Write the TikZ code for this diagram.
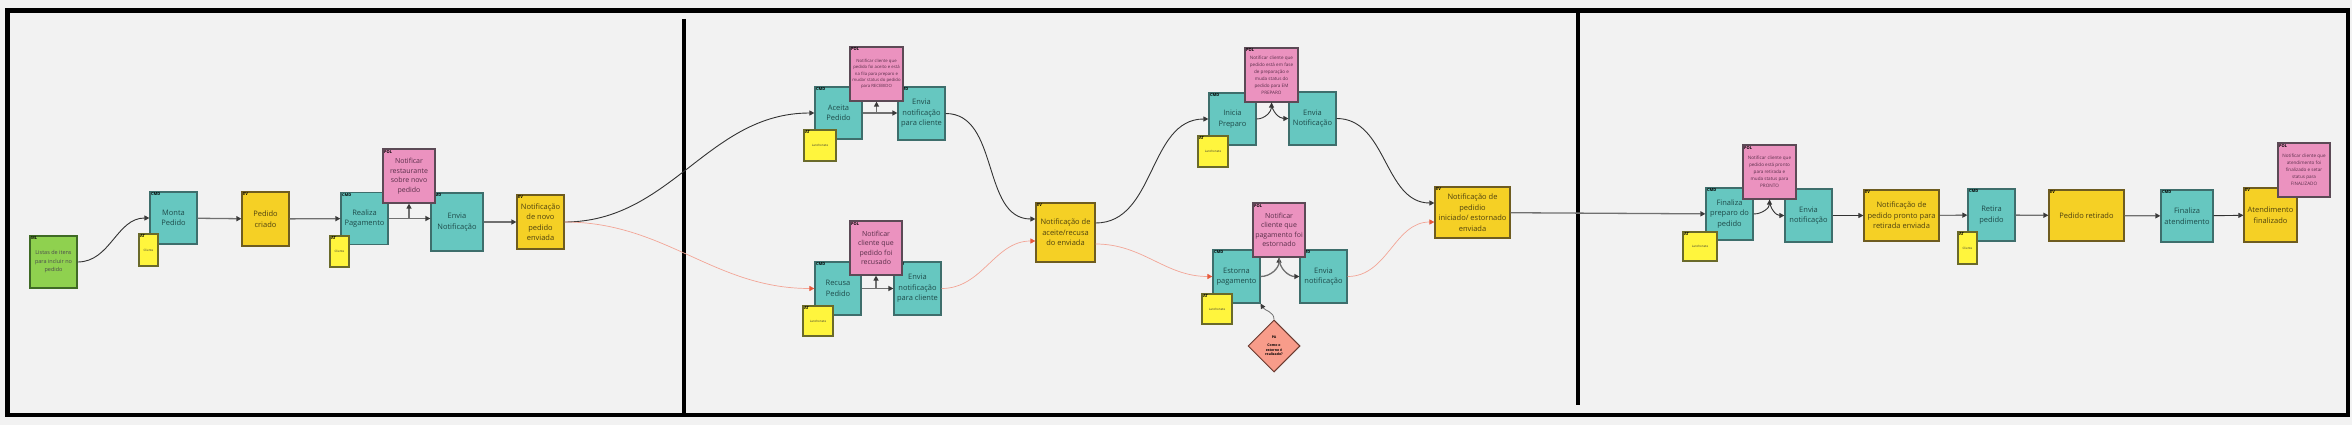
\documentclass[tikz,border=0pt]{standalone}
\usepackage{fontspec}
\setmainfont{Open Sans}
\usetikzlibrary{arrows.meta,shapes.geometric}
\definecolor{bgcolor}{HTML}{F2F2F2}
\definecolor{cmdfill}{HTML}{66C7C0}
\definecolor{cmdline}{HTML}{3E6E6C}
\definecolor{cmdtext}{HTML}{1E4B4A}
\definecolor{evfill}{HTML}{F5D025}
\definecolor{evline}{HTML}{6E5C20}
\definecolor{evtext}{HTML}{4F420F}
\definecolor{polfill}{HTML}{EB92BF}
\definecolor{polline}{HTML}{5C4A56}
\definecolor{poltext}{HTML}{5A2F4A}
\definecolor{atfill}{HTML}{FFF53D}
\definecolor{atline}{HTML}{6A6A2A}
\definecolor{mlfill}{HTML}{8FD14F}
\definecolor{mlline}{HTML}{3F6A25}
\definecolor{pafill}{HTML}{F89C8A}
\definecolor{paline}{HTML}{6A3A30}
\definecolor{flowgray}{HTML}{707070}
\definecolor{tipgray}{HTML}{3A3A3A}
\definecolor{flowred}{HTML}{F2A596}
\definecolor{tipred}{HTML}{E85A3C}
\tikzset{
    card/.style = {
        draw, line width=1.2pt, align=center, inner sep=1pt,
        minimum width=47pt, minimum height=52pt,
        font=\fontsize{7.5}{10.5}\selectfont,
        },
    tag/.style = {
        anchor=north west, inner sep=1.5pt, text=black,
        font=\fontsize{4}{4}\selectfont\bfseries,
        },
    cmd card/.style = {
        card, fill=cmdfill, draw=cmdline, text=cmdtext,
        label={[tag]north west:CMD},
        },
    ev card/.style = {
        card, fill=evfill, draw=evline, text=evtext,
        label={[tag]north west:EV},
        },
    pol card/.style = {
        card, fill=polfill, draw=polline, text=poltext,
        minimum width=52pt, minimum height=54pt,
        font=\fontsize{7}{9.5}\selectfont,
        label={[tag]north west:POL},
        },
    pol tiny/.style = {
        font=\fontsize{4.3}{6.3}\selectfont,
        },
    at note/.style = {
        card, fill=atfill, draw=atline, text=black!80,
        minimum width=30pt, minimum height=30pt,
        font=\fontsize{3}{3}\selectfont,
        label={[tag]north west:AT},
        },
    ml card/.style = {
        card, fill=mlfill, draw=mlline, text=black!70,
        font=\fontsize{5.5}{8.5}\selectfont,
        label={[tag]north west:ML},
        },
    pa card/.style = {
        diamond, draw=paline, fill=pafill, line width=1pt, align=center,
        minimum width=52pt, minimum height=52pt, inner sep=0pt,
        font=\fontsize{3.5}{4.5}\selectfont\bfseries,
        },
    frame/.style = {
        line width=4.5pt, line join=miter,
        },
    flow/.style = {
        draw=flowgray, line width=1.3pt,
        -{Triangle[length=5pt,width=5pt,color=tipgray]},
        },
    flow black/.style = {
        draw=black!80, line width=0.9pt,
        -{Triangle[length=5pt,width=5pt,color=tipgray]},
        },
    flow red/.style = {
        draw=flowred, line width=0.7pt,
        -{Triangle[length=5pt,width=5pt,color=tipred]},
        },
}
\begin{document}
\begin{tikzpicture}[x=1pt, y=-1pt]
    \useasboundingbox (0,0) rectangle (2352,425);
    \fill[bgcolor] (0,0) rectangle (2352,425);
    \draw[frame] (7.5,10.5) rectangle (2348,415);
    \draw[frame] (684,19) -- (684,415);
    \draw[frame] (1578,10.5) -- (1578,405);

    \node[ml card] (itens) at (53.5,262) {Listas de itens\\para incluir no\\pedido};
    \node[cmd card] (monta) at (173.5,218) {Monta\\Pedido};
    \node[ev card, minimum height=54pt] (criado) at (265.5,219) {Pedido\\criado};
    \node[cmd card] (realiza) at (364.5,218.5) {Realiza\\Pagamento};
    \node[cmd card, minimum width=52pt, minimum height=58pt] (enviaRest) at (457,222) {Envia\\Notificação};
    \node[ev card, minimum height=54pt] (novoEnviado) at (540.5,222) {Notificação\\de novo\\pedido\\enviada};
    \node[pol card] (polRest) at (409,176) {Notificar\\restaurante\\sobre novo\\pedido};
    \node[at note, minimum width=19pt, minimum height=32pt] (atMonta) at (148.5,250) {Cliente};
    \node[at note, minimum width=19pt, minimum height=31pt] (atPaga) at (339.5,251.5) {Cliente};

    \node[cmd card] (aceita) at (838.5,113) {Aceita\\Pedido};
    \node[cmd card, minimum height=53pt] (enviaAceite) at (921.5,113.5) {Envia\\notificação\\para cliente};
    \node[pol card, pol tiny, minimum width=53pt] (polAceite) at (876.5,74) {Notificar cliente que\\pedido foi aceito e está\\na fila para preparo e\\mudar status do pedido\\para RECEBIDO};
    \node[at note, minimum width=32pt, minimum height=31pt] (atAceita) at (820,145.5) {Lanchonete};
    \node[cmd card, minimum width=46pt, minimum height=53pt] (recusa) at (838,288.5) {Recusa\\Pedido};
    \node[cmd card, minimum height=53pt] (enviaRecusa) at (917.5,288.5) {Envia\\notificação\\para cliente};
    \node[pol card] (polRecusa) at (876,248) {Notificar\\cliente que\\pedido foi\\recusado};
    \node[at note] (atRecusa) at (818,321) {Lanchonete};
    \node[ev card, minimum width=59pt, minimum height=59pt] (respostaEnviada) at (1065.5,232.5) {Notificação de\\aceite/recusa\\do enviada};

    \node[cmd card] (inicia) at (1232.5,119) {Inicia\\Preparo};
    \node[cmd card, minimum height=53pt] (enviaPreparo) at (1312.5,118.5) {Envia\\Notificação};
    \node[pol card, pol tiny, minimum width=53pt, font=\fontsize{4.6}{7}\selectfont] (polPreparo) at (1271.5,75) {Notificar cliente que\\pedido está em fase\\de preparação e\\muda status do\\pedido para EM\\PREPARO};
    \node[at note, minimum height=31pt] (atInicia) at (1213,151.5) {Lanchonete};
    \node[cmd card, minimum height=53pt] (estorna) at (1236.5,276.5) {Estorna\\pagamento};
    \node[cmd card, minimum height=53pt] (enviaEstorno) at (1323.5,276.5) {Envia\\notificação};
    \node[pol card] (polEstorno) at (1279,230) {Notificar\\cliente que\\pagamento foi\\estornado};
    \node[at note] (atEstorna) at (1217,309) {Lanchonete};
    \node[pa card] (comoEstorno) at (1274,346) {PA\\[4pt]Como o\\estorno é\\realizado?};
    \node[ev card, minimum width=75pt, minimum height=51pt] (preparoEnviado) at (1472.5,212.5) {Notificação de\\pedidio\\iniciado/ estornado\\enviada};

    \node[cmd card] (finaliza) at (1729.5,214) {Finaliza\\preparo do\\pedido};
    \node[cmd card, minimum height=53pt] (enviaPronto) at (1808.5,215.5) {Envia\\notificação};
    \node[pol card, pol tiny, minimum width=53pt, font=\fontsize{4.6}{7}\selectfont] (polPronto) at (1769.5,172) {Notificar cliente que\\pedido está pronto\\para retirada e\\muda status para\\PRONTO};
    \node[at note, minimum width=34pt, minimum height=29pt] (atFinaliza) at (1700,246.5) {Lanchonete};
    \node[ev card, minimum width=75pt, minimum height=51pt] (prontoEnviado) at (1901.5,215.5) {Notificação de\\pedido pronto para\\retirada enviada};
    \node[cmd card] (retira) at (1991.5,215) {Retira\\pedido};
    \node[at note, minimum width=19pt, minimum height=32pt] (atRetira) at (1967.5,248) {Cliente};
    \node[ev card, minimum width=75pt, minimum height=51pt] (retirado) at (2086.5,215.5) {Pedido retirado};
    \node[cmd card, minimum width=52pt] (finalizaAtend) at (2187,216) {Finaliza\\atendimento};
    \node[ev card, minimum width=53pt, minimum height=54pt] (atendFinalizado) at (2270.5,215) {Atendimento\\finalizado};
    \node[pol card, pol tiny, font=\fontsize{4.6}{7}\selectfont] (polFinal) at (2304,170) {Notificar cliente que\\atendimento foi\\finalizado e setar\\status para\\FINALIZADO};

    \draw[flow black] (itens.east) to[out=0, in=180] (monta.west);
    \draw[flow] (monta) -- (criado);
    \draw[flow] (criado) -- (realiza);
    \draw[flow] (realiza.east) -- (realiza.east -| enviaRest.west);
    \draw[flow] (realiza.east -| polRest.south) -- (polRest.south);
    \draw[flow] (enviaRest) -- (novoEnviado);
    \draw[flow black] (novoEnviado.east) to[out=0, in=180] (aceita.west);
    \draw[flow red] (novoEnviado.east) to[out=0, in=180] (recusa.west);

    \draw[flow] (aceita.east) -- (aceita.east -| enviaAceite.west);
    \draw[flow] (aceita.east -| polAceite.south) -- (polAceite.south);
    \draw[flow] (recusa.east) -- (recusa.east -| enviaRecusa.west);
    \draw[flow] (recusa.east -| polRecusa.south) -- (polRecusa.south);
    \draw[flow black] (enviaAceite.east) to[out=0, in=180] ([yshift=13.5pt]respostaEnviada.west);
    \draw[flow red] (enviaRecusa.east) to[out=0, in=180] ([yshift=-8.5pt]respostaEnviada.west);
    \draw[flow black] ([yshift=9.5pt]respostaEnviada.east) to[out=0, in=180] (inicia.west);
    \draw[flow red] ([yshift=-11.5pt]respostaEnviada.east) to[out=0, in=180] (estorna.west);

    \draw[flow black] (inicia.east) to[out=0, in=-90] (polPreparo.south);
    \draw[flow black] (polPreparo.south) to[out=-90, in=180] (enviaPreparo.west);
    \draw[flow] (estorna.east) to[out=0, in=-90] (polEstorno.south);
    \draw[flow] (polEstorno.south) to[out=-90, in=180] (enviaEstorno.west);
    \draw[flow, line width=0.8pt] (comoEstorno.north) to[out=90, in=-60] (estorna.south east);
    \draw[flow black] (enviaPreparo.east) to[out=0, in=180] ([yshift=9.5pt]preparoEnviado.west);
    \draw[flow red] (enviaEstorno.east) to[out=0, in=180] ([yshift=-9.5pt]preparoEnviado.west);

    \draw[flow] (preparoEnviado) -- (finaliza);
    \draw[flow black] (finaliza.east) to[out=0, in=-90] (polPronto.south);
    \draw[flow black] (polPronto.south) to[out=-90, in=180] (enviaPronto.west);
    \draw[flow black] (enviaPronto) -- (prontoEnviado);
    \draw[flow black] (prontoEnviado) -- (retira);
    \draw[flow] (retira) -- (retirado);
    \draw[flow] (retirado) -- (finalizaAtend);
    \draw[flow black] (finalizaAtend) -- (atendFinalizado);
\end{tikzpicture}
\end{document}
